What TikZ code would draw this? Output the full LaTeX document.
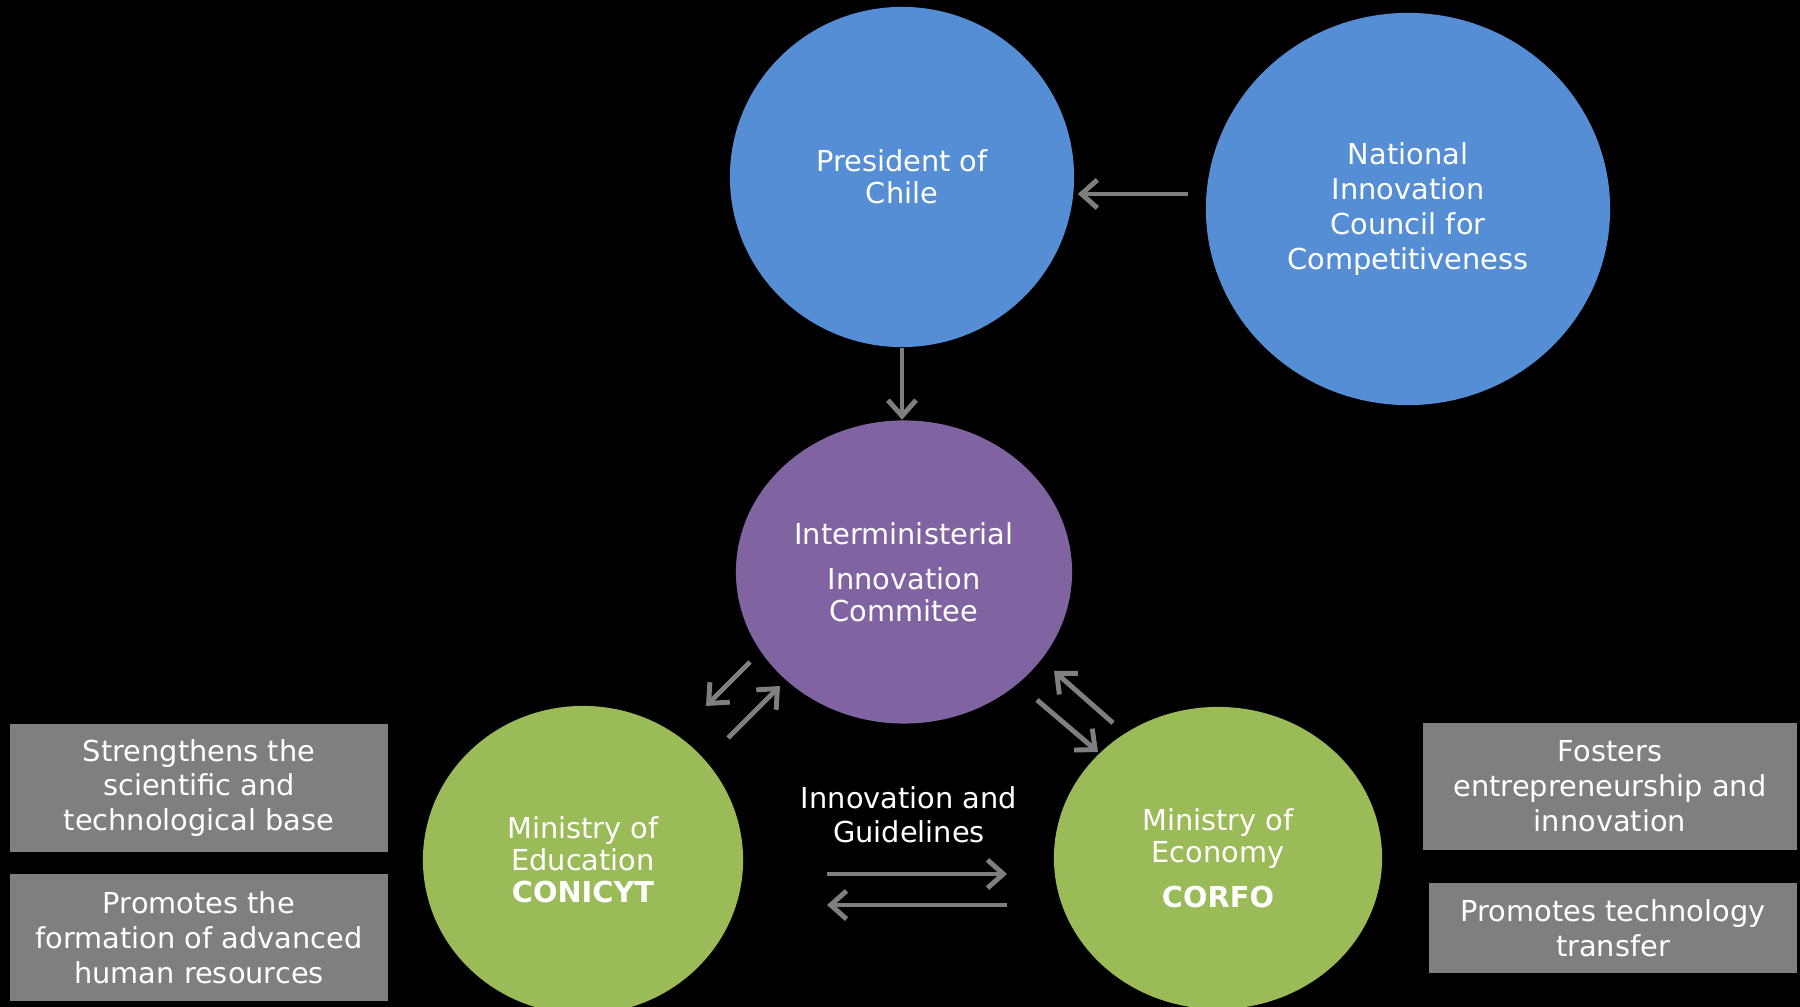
\documentclass[tikz,border=0pt]{standalone}
\usepackage{fontspec}
\setmainfont{DejaVu Sans}
\usetikzlibrary{shapes.geometric}
\usetikzlibrary{arrows.meta}
\definecolor{presblue}{HTML}{558ED5}
\definecolor{interpurple}{HTML}{8064A2}
\definecolor{minigreen}{HTML}{9BBB59}
\definecolor{boxgray}{HTML}{7F7F7F}

\begin{document}
\begin{tikzpicture}[x=0.01cm,y=-0.01cm,
    blob/.style={ellipse,inner sep=0pt,text=white,align=center,font=\fontsize{8.2}{9.1}\selectfont},
    infobox/.style={rectangle,fill=boxgray,inner sep=0pt,text=white,align=center,font=\fontsize{8.2}{9.9}\selectfont},
    arr/.style={draw=boxgray,line width=1.4pt,-{Straight Barb[length=4.5pt,width=8pt,line width=1.4pt]}}]
                \useasboundingbox (0,0) rectangle (1800,1007);
                \fill[black] (0,0) rectangle (1800,1007);
                % circles
                \node[blob,fill=presblue,minimum width=3.44cm,minimum height=3.40cm] (pres) at (902,177) {President of\\Chile};
                \node[blob,fill=presblue,minimum width=4.04cm,minimum height=3.92cm,font=\fontsize{8.2}{9.9}\selectfont] (nic) at (1408,209) {National\\Innovation\\Council for\\Competitiveness};
                \node[blob,fill=interpurple,minimum width=3.36cm,minimum height=3.03cm] (inter) at (904,572) {Interministerial\\[3.7pt]Innovation\\Commitee};
                \node[blob,fill=minigreen,minimum width=3.20cm,minimum height=3.08cm] (edu) at (583,860) {Ministry of\\Education\\\textbf{CONICYT}};
                \node[blob,fill=minigreen,minimum width=3.28cm,minimum height=3.02cm] (econ) at (1218,858) {Ministry of\\Economy\\[3.7pt]\textbf{CORFO}};
                % boxes
                \node[infobox,minimum width=3.78cm,minimum height=1.27cm] (sci) at (199,788) {Strengthens the\\scientific and\\technological base};
                \node[infobox,minimum width=3.78cm,minimum height=1.27cm] (hum) at (199,937.5) {Promotes the\\formation of advanced\\human resources};
                \node[infobox,minimum width=3.74cm,minimum height=1.27cm] (ent) at (1610,786.5) {Fosters\\entrepreneurship and\\innovation};
                \node[infobox,minimum width=3.68cm,minimum height=0.90cm] (tech) at (1613,928) {Promotes technology\\transfer};
                \node[text=white,align=center,font=\fontsize{8.2}{9.6}\selectfont] (guide) at (909,815) {Innovation and\\Guidelines};
                % arrows
                \draw[arr] ([shift={(-17,-15)}]nic.west) -- ([shift={(3,17)}]pres.east);
                \draw[arr] (pres.south) -- (pres.south |- inter.north);
                \draw[arr] ([shift={(-154,90)}]inter.center) -- ([shift={(123,-154)}]edu.center);
                \draw[arr] ([shift={(145,-122)}]edu.center) -- ([shift={(-124,114)}]inter.center);
                \draw[arr] ([shift={(-105,-135)}]econ.center) -- ([shift={(150,99)}]inter.center);
                \draw[arr] ([shift={(133,128)}]inter.center) -- ([shift={(-120,-106)}]econ.center);
                \draw[arr] ([shift={(244,14)}]edu.center) -- ([shift={(-211,16)}]econ.center);
                \draw[arr] ([shift={(-211,47)}]econ.center) -- ([shift={(244,45)}]edu.center);
            \end{tikzpicture}
\end{document}
